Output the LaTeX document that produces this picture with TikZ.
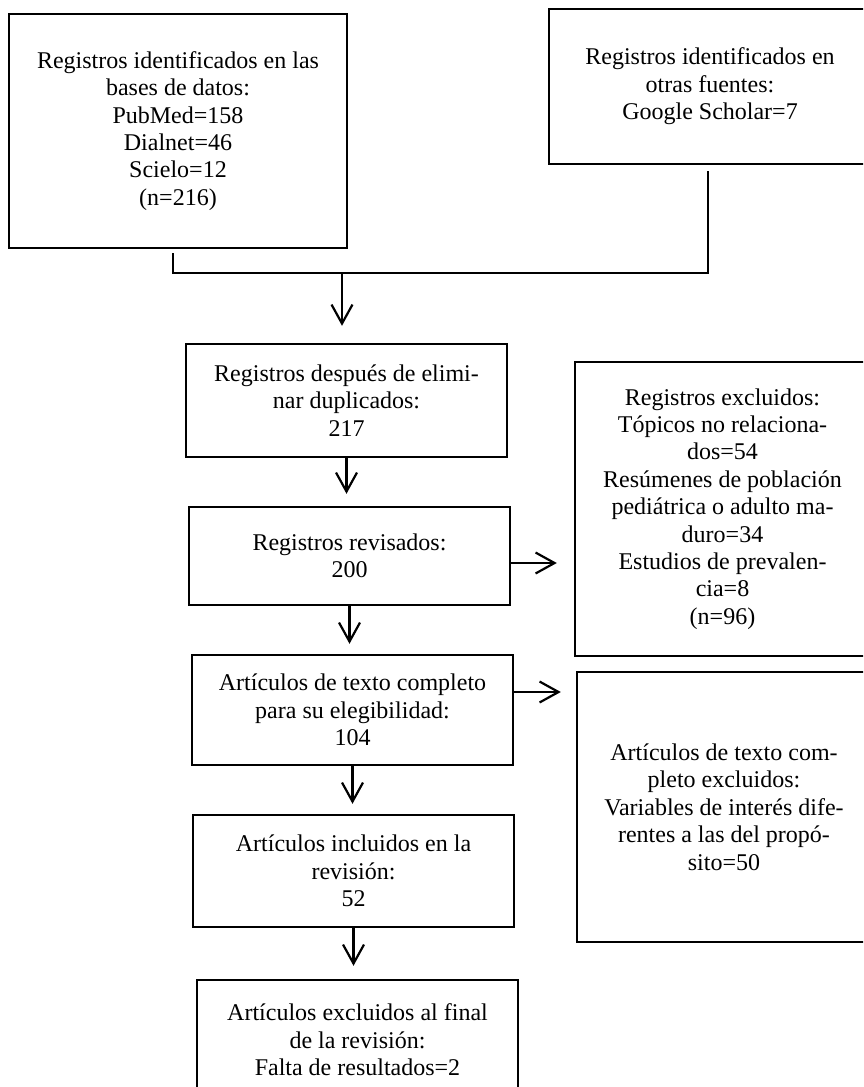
\documentclass[tikz,border=0pt]{standalone}
\usepackage{fontspec}
\setmainfont{Liberation Serif}
\usetikzlibrary{arrows.meta}
\begin{document}
\begin{tikzpicture}[x=0.5pt,y=-0.5pt,
  box/.style={draw=black, line width=1.2pt, inner sep=0pt, align=center,
    font=\fontsize{12}{13.7}\selectfont},
  conn/.style={line width=1.1pt},
  arr/.style={line width=1.1pt, -{Straight Barb[length=9.5pt,width=10.5pt,line width=1.1pt]}}]
\useasboundingbox (0,0) rectangle (863,1087);
\clip (0,0) rectangle (863,1087);
\fill[white] (0,0) rectangle (863,1087);

\node[box, minimum width=169pt, minimum height=117pt] (b1) at (178,131)
  {Registros identificados en las\\bases de datos:\\PubMed=158\\Dialnet=46\\Scielo=12\\(n=216)};
\node[box, minimum width=161pt, minimum height=77.5pt] (b2) at (710,86.5)
  {Registros identificados en\\otras fuentes:\\Google Scholar=7};
\node[box, minimum width=160.5pt, minimum height=56.5pt] (b3) at (346.5,400.5)
  {Registros después de elimi-\\nar duplicados:\\217};
\node[box, minimum width=160.5pt, minimum height=49pt] (b4) at (349.5,556)
  {Registros revisados:\\200};
\node[box, minimum width=160.5pt, minimum height=55pt] (b5) at (352.5,710)
  {Artículos de texto completo\\para su elegibilidad:\\104};
\node[box, minimum width=160.5pt, minimum height=56pt] (b6) at (353.5,871)
  {Artículos incluidos en la\\revisión:\\52};
\node[box, minimum width=160.5pt, minimum height=60pt] (b7) at (357.5,1040)
  {Artículos excluidos al final\\de la revisión:\\Falta de resultados=2};
\node[box, minimum width=147.5pt, minimum height=147pt] (b8) at (722.5,509)
  {Registros excluidos:\\Tópicos no relaciona-\\dos=54\\Resúmenes de población\\pediátrica o adulto ma-\\duro=34\\Estudios de prevalen-\\cia=8\\(n=96)};
\node[box, minimum width=147pt, minimum height=135pt] (b9) at (724,807)
  {Artículos de texto com-\\pleto excluidos:\\Variables de interés dife-\\rentes a las del propó-\\sito=50};

\coordinate (j1) at (173,273);
\coordinate (j2) at (708,273);
\coordinate (jm) at (342,273);

\draw[conn, shorten <=2pt, shorten >=3pt] (b1.south -| j1) -- (j1) -- (j2) -- (b2.south -| j2);
\draw[arr, shorten >=8.5pt] (jm) -- (jm |- b3.north);
\draw[arr, shorten >=6pt] (b3.south) -- (b3.south |- b4.north);
\draw[arr, shorten >=5pt] (b4.south) -- (b4.south |- b5.north);
\draw[arr, shorten >=5pt] (b5.south) -- (b5.south |- b6.north);
\draw[arr, shorten >=6.5pt] (b6.south) -- (b6.south |- b7.north);
\draw[arr, shorten >=8.5pt] ([yshift=-3.5pt]b4.east) -- ([yshift=-3.5pt]b4.east -| b8.west);
\draw[arr, shorten >=7.5pt] ([yshift=9pt]b5.east) -- ([yshift=9pt]b5.east -| b9.west);
\end{tikzpicture}
\end{document}
